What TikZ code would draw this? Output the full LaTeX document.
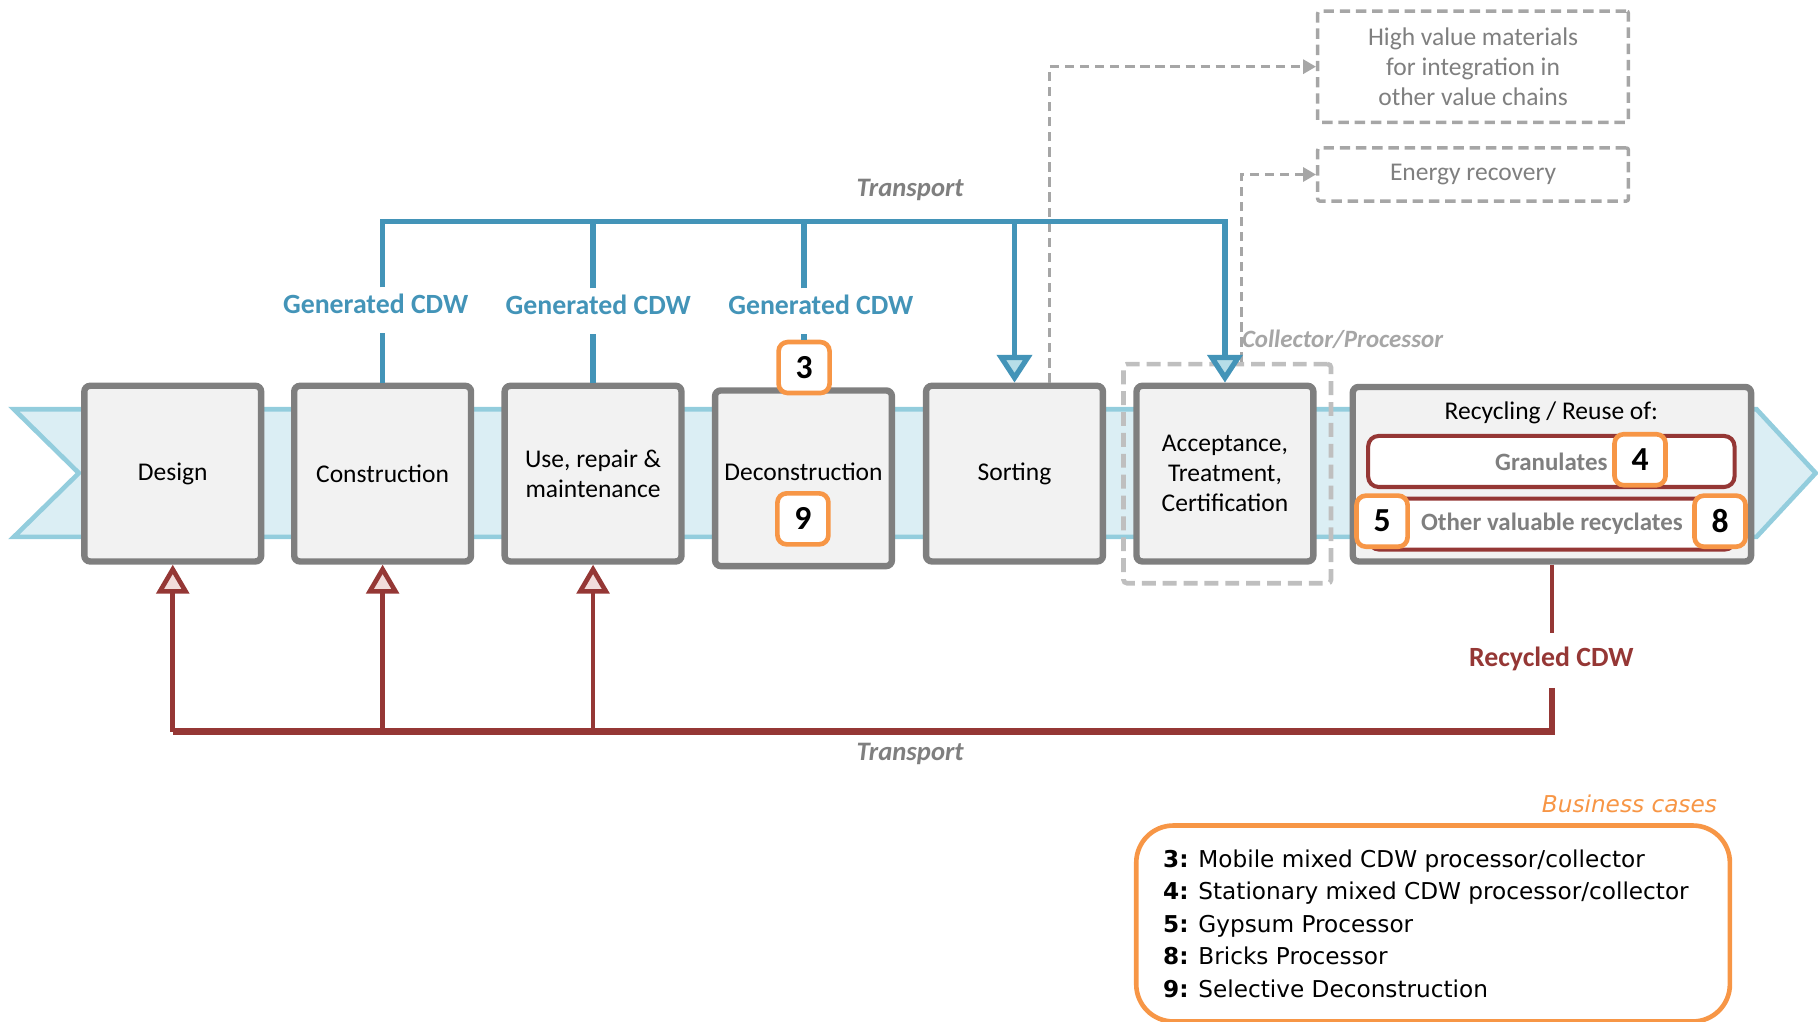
\documentclass[tikz,border=0pt]{standalone}
\usepackage{fontspec}
\setmainfont{Carlito}
\newfontfamily\tah{DejaVu Sans}
\usetikzlibrary{arrows.meta}
\definecolor{bandfill}{HTML}{DBEEF4}
\definecolor{bandline}{HTML}{93CDDD}
\definecolor{boxfill}{HTML}{F2F2F2}
\definecolor{boxline}{HTML}{7F7F7F}
\definecolor{cdwblue}{HTML}{4394B8}
\definecolor{bluefill}{HTML}{B7DEE8}
\definecolor{cdwred}{HTML}{953735}
\definecolor{redfill}{HTML}{F2DCDB}
\definecolor{orng}{HTML}{F79646}
\definecolor{txtgray}{HTML}{7F7F7F}
\definecolor{dashgray}{HTML}{A6A6A6}
\definecolor{cpgray}{HTML}{BFBFBF}
\begin{document}
\begin{tikzpicture}[x=1pt,y=-1pt,
  stage/.style={draw=boxline, line width=5.5pt, fill=boxfill, rounded corners=5pt, minimum width=152.5pt, minimum height=151.5pt, inner sep=0pt, align=center, font=\fontsize{22}{26}\selectfont},
  stagetxt/.style={inner sep=0pt, align=center, font=\fontsize{22}{26}\selectfont},
  badge/.style={draw=orng, line width=4pt, fill=white, rounded corners=8pt, minimum width=44pt, minimum height=44pt, inner sep=0pt, font=\bfseries\fontsize{29}{29}\selectfont},
  bar/.style={draw=cdwred, line width=3.5pt, fill=white, rounded corners=9pt, minimum width=316pt, minimum height=44pt, inner sep=0pt, text=txtgray, font=\bfseries\fontsize{21.5}{24}\selectfont},
  genlbl/.style={text=cdwblue, font=\bfseries\fontsize{24}{24}\selectfont, text height=16pt, text depth=11pt, inner xsep=0pt, inner ysep=6pt},
  reclbl/.style={text=cdwred, font=\bfseries\fontsize{24}{24}\selectfont, text height=16pt, text depth=5pt, inner xsep=0pt, inner ysep=13pt},
  bl/.style={draw=cdwblue, line width=4.5pt},
  bltip/.style={-{Triangle[width=30pt,length=24pt,fill=bluefill]}},
  rd/.style={draw=cdwred, line width=4pt},
  rdtip/.style={-{Triangle[width=28pt,length=25pt,fill=redfill]}},
  gdash/.style={draw=dashgray, line width=2.5pt, dash pattern=on 8pt off 5pt, -{Triangle[width=12pt,length=11pt]}},
  outbox/.style={draw=dashgray, line width=3pt, dash pattern=on 9pt off 5pt, rounded corners=2pt, text=txtgray, align=center, font=\fontsize{22}{26}\selectfont, inner sep=0pt},
  transp/.style={text=txtgray, inner sep=0pt, font=\bfseries\itshape\fontsize{23}{23}\selectfont},
  legtxt/.style={inner sep=0pt, anchor=base west, font=\tah\fontsize{20}{24}\selectfont}
]
\useasboundingbox (0,0) rectangle (1568,881);

% band
\path[draw=bandline, fill=bandfill, line width=4pt, line join=miter]
  (12,353) -- (1515,353) -- (1566,408) -- (1515,463) -- (12,463) -- (68,408) -- cycle;

% collector/processor dashed frame
\node[draw=cpgray, line width=4pt, dash pattern=on 12pt off 6pt, rounded corners=3pt, minimum width=179pt, minimum height=189pt, inner sep=0pt] (cp) at (1058.5,408.5) {};

% stages
\node[stage] (design) at (149,408.5) {Design};
\node[stage] (constr) at (330,408.5) {Construction};
\node[stage] (use) at (511.5,408.5) {Use, repair \&\\maintenance};
\node[stage] (decon) at (693,412.5) {};
\node[stagetxt] (deconT) at (693,407) {Deconstruction};
\node[stage] (sort) at (875,408.5) {Sorting};
\node[stage] (accept) at (1056.5,408.5) {Acceptance,\\Treatment,\\Certification};
\node[stage, minimum width=343.5pt, minimum height=150.5pt] (recyc) at (1338.5,409) {};
\node[stagetxt] (recT) at (1338,356) {Recycling / Reuse of:};

% recycling bars
\node[bar] (gran) at (1338,398) {Granulates};
\node[bar] (other) at (1338.5,452) {Other valuable recyclates};

% badges
\node[badge] (b3) at (693.5,317) {3};
\node[badge] (b9) at (692.5,447.5) {9};
\node[badge] (b4) at (1414.5,396.5) {4};
\node[badge] (b5) at (1192,449.5) {5};
\node[badge] (b8) at (1483.5,449.5) {8};

% top right outputs
\node[outbox, minimum width=268pt, minimum height=96pt] (hv) at (1270.5,57.5) {High value materials\\for integration in\\other value chains};
\node[outbox, minimum width=268pt, minimum height=46pt] (er) at (1270.5,150.5) {Energy recovery};

% gray dashed connectors
\draw[gdash] ([xshift=30pt]sort.north) |- (hv.west);
\draw[gdash] ([xshift=12pt]cp.north) |- (er.west);

\node[anchor=west, inner sep=0pt, text=dashgray, font=\bfseries\itshape\fontsize{21.5}{24}\selectfont] (cpl) at (1071,293) {Collector/Processor};

% blue labels and lines
\node[transp] (ttop) at (785,164) {Transport};
\coordinate (top) at (0,191);
\node[genlbl] (gen1) at (324,267.5) {Generated CDW};
\node[genlbl] (gen2) at (516,268.5) {Generated CDW};
\node[genlbl] (gen3) at (708,268.5) {Generated CDW};

\draw[bl] (constr.north) -- (constr.north |- gen1.south);
\draw[bl] (use.north) -- (use.north |- gen2.south);
\draw[bl] (b3.north) -- (b3.north |- gen3.south);
\draw[bl] (use.north |- gen2.north) -- (use.north |- top);
\draw[bl] (b3.north |- gen3.north) -- (b3.north |- top);
\draw[bl, bltip] (sort.north |- top) -- (sort.north);
\draw[bl, bltip, line join=miter] (constr.north |- gen1.north) -- (constr.north |- top) -- (accept.north |- top) -- (accept.north);

% red return lines
\node[reclbl] (recl) at (1338,569.5) {Recycled CDW};
\coordinate (bot) at (0,631);
\draw[rd] (recyc.south) -- (recyc.south |- recl.north);
\draw[rd, line width=5.5pt, line join=miter] (recyc.south |- recl.south) -- (recyc.south |- bot) -- (design.south |- bot);
\draw[rd, rdtip] (design.south |- bot) -- (design.south);
\draw[rd, rdtip] (constr.south |- bot) -- (constr.south);
\draw[rd, rdtip] (use.south |- bot) -- (use.south);
\node[transp] (tbot) at (785,650) {Transport};

% business cases legend
\node[anchor=east, inner sep=0pt, text=orng, font=\tah\itshape\fontsize{20}{24}\selectfont] (bc) at (1481,693) {Business cases};
\node[draw=orng, line width=4pt, rounded corners=32pt, minimum width=512pt, minimum height=169pt, inner sep=0pt] (leg) at (1236,796.5) {};
\node[legtxt] (l1) at (1003,748) {\textbf{3:} Mobile mixed CDW processor/collector};
\node[legtxt] (l2) at (1003,776) {\textbf{4:} Stationary mixed CDW processor/collector};
\node[legtxt] (l3) at (1003,804) {\textbf{5:} Gypsum Processor};
\node[legtxt] (l4) at (1003,832) {\textbf{8:} Bricks Processor};
\node[legtxt] (l5) at (1003,860) {\textbf{9:} Selective Deconstruction};
\end{tikzpicture}
\end{document}
